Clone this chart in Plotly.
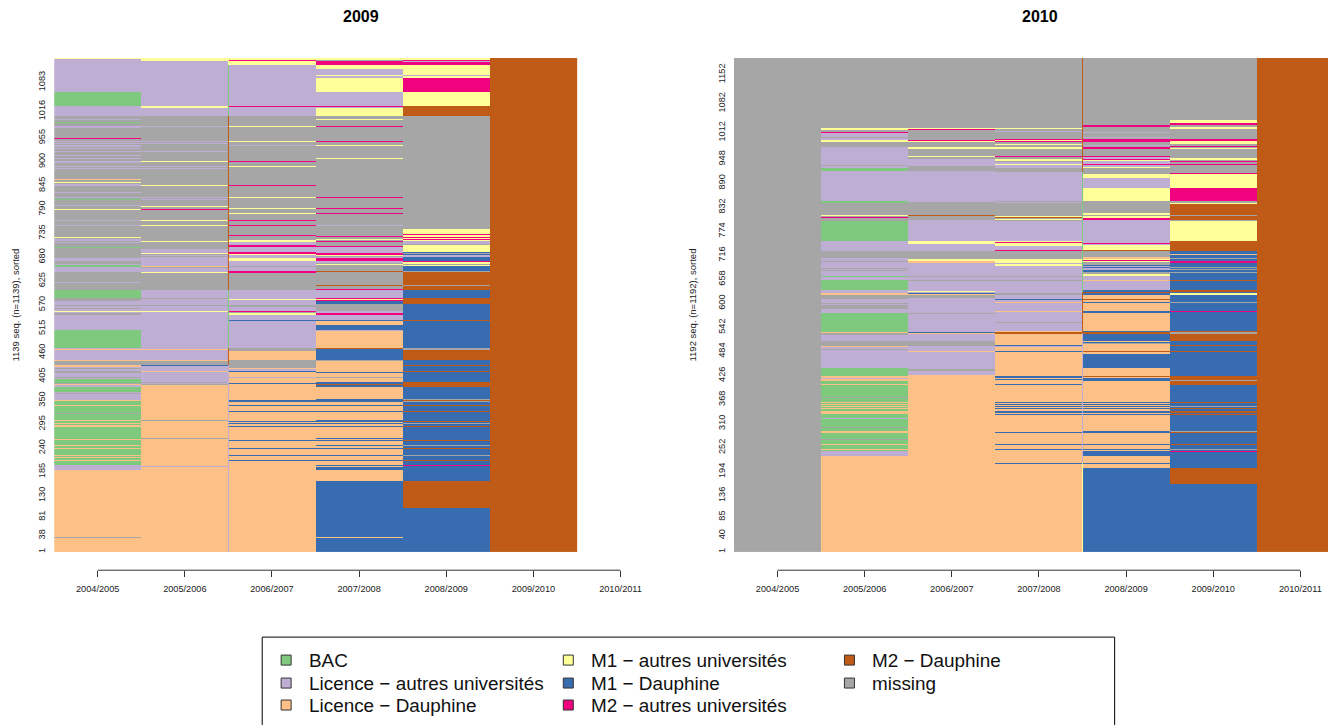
import plotly.graph_objects as go

STATE_CODES = ["G", "A", "L", "Y", "M", "P", "B", "X"]
STATE_NAMES = ["BAC", "Licence − autres universités", "Licence − Dauphine",
               "M1 − autres universités", "M1 − Dauphine", "M2 − autres universités",
               "M2 − Dauphine", "missing"]
STATE_COLORS = ["#7FC97F", "#BEAED4", "#FDC086", "#FFFF99", "#386CB0", "#F0027F", "#BF5B17", "#A6A6A6"]
YEARS = ["2004/2005", "2005/2006", "2006/2007", "2007/2008", "2008/2009", "2009/2010", "2010/2011"]

N_2009 = 1139
N_2010 = 1192
TICKS_2009 = [1, 38, 81, 130, 185, 240, 295, 350, 405, 460, 515, 570, 625, 680, 735, 790, 845, 900, 955, 1016, 1083]
TICKS_2010 = [1, 40, 85, 136, 194, 252, 310, 368, 426, 484, 542, 600, 658, 716, 774, 832, 890, 948, 1012, 1082, 1152]

# Each column: runs read top-down, "state + last row counted from the top of the index plot"
RUNS_2009_1 = """Y2 A78 G110 A134 P135 X141 A142 X148 G149 X157 A161 X184 P186 X192 A194 X197 A198 X201 A202 X204 A206 X208 A210
X215 A217 X224 A227 X230 A232 X237 A242 X249 A251 X254 A256 X270 G271 X279 L281 X286 Y288 X291 A296 X300 A301 X309 A311
X320 A322 X325 G327 X339 G340 A342 X348 Y350 X373 A376 X385 A387 X413 Y415 X417 A419 X420 A422 X424 A426 X437 G439 X445
A446 X461 A468 X474 A477 G482 A493 X516 A519 X535 G553 X560 A569 X572 A576 X578 A583 Y586 A587 X592 A628 G669 A671 L673
A696 L699 X707 L712 A715 X717 A723 X726 A736 X739 A740 G749 A750 X752 L755 A759 G770 A772 X775 A781 L782 A788 L791 G801
L802 G813 L815 G818 X820 G835 L838 G841 L844 G847 L850 G879 L882 G893 L895 G899 L901 G915 L918 G921 L922 G927 L929 G939
A950 L1104 X1107 L1139"""
RUNS_2009_2 = """Y7 A111 Y115 A133 X157 A159 X191 A193 X197 A198 X203 A204 X215 A217 X237 Y239 X249 A251 X254 A256 X293 Y295 X320 A323
X325 A327 X341 Y344 X348 P350 X373 Y376 X385 Y387 X422 Y424 X440 A449 Y452 X454 A456 X460 A480 L482 X484 A493 Y496 X535
A553 X555 A569 X572 A583 Y586 A671 L673 A696 L699 X708 M710 A722 L724 A748 X750 A752 X754 L805 X806 L835 X836 L876 X878
L888 X889 L941 A943 L1139"""
RUNS_2009_3 = """Y5 P7 Y16 A111 P113 A133 X157 Y159 X191 Y194 X201 A203 X237 P239 X249 Y251 X293 P295 X320 Y323 X346 Y348 X357 Y360 X373
P376 X385 P387 X408 P410 X420 Y424 A431 P436 A447 P452 Y454 A461 Y468 A480 X482 A492 P496 X535 A556 Y558 A569 X575 A583
P586 X589 Y593 A604 M606 A669 X675 L696 X708 M709 X715 L717 A722 M724 L735 A737 L749 M752 L754 M755 L788 M793 L800 M802
L814 M816 L837 M839 L842 M844 L848 M851 L881 M883 L899 M901 L915 M918 L920 M921 L927 M929 L1139"""
RUNS_2009_4 = """Y5 X7 P16 Y25 A39 Y41 A46 Y78 A111 P113 A115 Y133 X141 Y142 X157 P159 X191 P194 X201 Y203 X231 Y233 X320 P323 X346 P348
X357 P360 X385 A387 X410 P413 X417 Y420 X422 P424 X433 P436 A450 P454 Y456 X459 A461 P468 A473 X475 Y477 X491 B493 X523
B526 X533 P535 A553 P556 Y558 P560 M567 X583 A589 P592 A604 M606 L616 M627 A629 L669 B672 M696 X699 L708 X709 L724 M726
L735 X738 L747 M752 B754 M758 L786 M793 L800 M802 L814 M816 L835 M839 L842 M844 L848 M851 L876 M878 L881 M883 L892 M895
L899 M901 L915 M918 L920 M921 L927 M929 L938 M941 L943 M950 L975 M1104 L1107 M1139"""
RUNS_2009_5 = """Y5 P7 A10 P16 Y39 A41 Y46 P78 Y111 B133 X394 Y406 P408 Y413 P415 Y418 P420 Y422 A429 X431 Y447 M450 X452 M454 A459 M469
P470 Y475 X477 Y480 M491 X493 B523 X526 B535 M553 B567 M604 B606 M669 X673 B696 M708 B710 M722 B724 M747 B759 M786 X788
B791 X793 M800 B802 M814 B816 M837 B839 M842 X844 M848 B851 M880 B883 M892 X895 M899 B901 M915 X918 M920 B921 M927 B929
M938 P941 M975 B1037 M1139"""
RUNS_2009_6 = "B1139"

RUNS_2010_1 = "X1192"
RUNS_2010_2 = """X157 P158 X169 Y175 X179 P181 A191 X194 A197 P199 Y202 X212 X214 A258 X261 A265 G274 A345 G351 X379 Y381 X384 P386 X393
G442 A466 X483 A490 X492 A507 X509 A512 X513 A526 G528 A537 G561 A567 L572 X581 A591 X594 A596 X607 A615 G661 L664 X668
A683 X694 L697 A703 X705 A748 G767 L773 A775 L779 G787 L789 G818 X820 G830 L832 G835 L837 G840 L842 G845 L847 G852 L858
G869 A871 G890 X893 G900 L905 G919 X922 G931 L934 G943 L946 G949 A960 L1192"""
RUNS_2010_3 = """X169 Y171 P173 X197 P200 Y202 X216 Y220 X236 Y239 X244 A261 X263 X274 A347 X379 B381 X391 A442 Y449 A466 X485 Y490 L495
A526 X528 A536 X538 A562 Y565 A567 M569 L572 X579 A615 X618 A661 M664 L666 A683 X694 L696 A707 L709 A750 X755 A766 L1192"""
RUNS_2010_4 = """X169 Y171 X176 A179 X195 P198 Y200 P203 X208 Y211 X215 Y220 X236 P239 X244 Y249 X251 A256 Y258 A265 X275 A345 X347 A350
X381 Y384 B386 X388 Y391 X393 A442 Y444 P446 Y454 A463 P466 X485 Y495 A497 Y502 A526 X528 A536 X538 A567 X572 A581 M584
A589 L591 A610 L613 A637 X639 A659 L661 B666 L692 M695 A697 L707 M709 L767 M772 L775 M777 L787 M789 L830 M832 L835 M837
L840 M842 L845 M847 L852 M857 L859 M861 L902 M905 L931 M934 L943 M946 L977 M980 L1192"""
RUNS_2010_5 = """X162 P166 X179 A181 X191 A193 X195 P203 X210 A212 X215 P220 X236 P239 A244 P246 Y249 A256 P258 A263 Y265 X280 Y290 A314
Y345 X350 X374 Y379 X381 Y386 P391 A446 P449 A451 Y463 B466 X480 L485 Y487 P490 Y492 X499 M501 A504 M507 X508 A512 M516
X521 Y526 A536 L538 A560 M565 B567 M572 L581 B584 L589 M591 L610 M615 L659 M661 B665 M683 L685 M688 X690 L707 B709 L714
M748 L767 B771 L772 M779 L830 M832 L835 M837 L840 M842 L845 M847 L852 M857 L859 M861 L900 M905 L931 M934 L943 M946 L948
M960 L977 M980 L989 M1192"""
RUNS_2010_6 = """X150 Y158 P161 X166 Y171 X195 P200 Y207 X212 P215 X217 Y220 X241 Y246 X249 P251 X256 P258 X277 P280 Y314 P345 X350 Y352
B379 X381 B391 X393 Y442 B466 M473 L475 M483 X485 M491 P495 M504 X507 M509 X512 M516 X520 M536 B538 M560 B565 M567 Y572
M589 X591 M610 P613 M659 B661 X666 B683 M692 B695 M707 B709 M767 B777 X779 B789 M830 B832 M840 X842 M845 B847 M852 B857
M859 B861 M900 X902 B905 M931 B934 M943 X946 M948 P951 M989 B1028 M1192"""
RUNS_2010_7 = "B1192"

# Hairline seen on the boundary between two columns, same run notation
SEAM_2009 = "Y16 G133 B535 G669 B708 A1139"
SEAM_2010 = "B275 G565 B664 A978 Y1192"

COLUMNS_2009 = [RUNS_2009_1, RUNS_2009_2, RUNS_2009_3, RUNS_2009_4, RUNS_2009_5, RUNS_2009_6]
COLUMNS_2010 = [RUNS_2010_1, RUNS_2010_2, RUNS_2010_3, RUNS_2010_4, RUNS_2010_5, RUNS_2010_6, RUNS_2010_7]


def build_matrix(columns, n):
    z = [[None] * len(columns) for _ in range(n)]
    for c, text in enumerate(columns):
        start = 0
        for run in text.split():
            code, end = STATE_CODES.index(run[0]), int(run[1:])
            for depth in range(start, end):
                z[n - 1 - depth][c] = code
            start = end
    return z


W, H = 1332, 726
COL_PX = 87.4
TOP, BOTTOM, AXIS_Y = 58, 552.7, 571


def py(v):
    return 1 - v / H


scale = [[i / 8 + e / 8, c] for i, c in enumerate(STATE_COLORS) for e in (0, 1)]
fig = go.Figure()


def panel(columns, n, ticks, xa, ya, left, right, title, ytitle_x, title_x, seam, seam_x):
    z = build_matrix(columns, n)
    fig.add_trace(go.Heatmap(z=z, x=list(range(1, len(columns) + 1)), y=list(range(1, n + 1)),
                             colorscale=scale, zmin=-0.5, zmax=7.5, showscale=False, hoverinfo="skip",
                             xaxis=xa, yaxis=ya))
    start = 0
    for run in seam.split():
        end = int(run[1:])
        fig.add_trace(go.Scatter(x=[seam_x, seam_x], y=[n - start + 0.5, n - end + 0.5], mode="lines",
                                 line=dict(color=STATE_COLORS[STATE_CODES.index(run[0])], width=1),
                                 hoverinfo="skip", xaxis=xa, yaxis=ya))
        start = end
    xname = "xaxis" + xa[1:]
    yname = "yaxis" + ya[1:]
    fig.layout[xname] = dict(domain=[left / W, right / W], range=[0.5, 0.5 + (right - left) / COL_PX],
                             anchor="free", position=py(AXIS_Y), tickmode="array",
                             tickvals=list(range(1, 8)), ticktext=YEARS, ticks="outside", ticklen=6,
                             tickwidth=1, tickcolor="#333333", showgrid=False, zeroline=False,
                             showline=False, tickangle=0, ticklabelstandoff=4,
                             tickfont=dict(size=9.2, color="#222222"))
    fig.layout[yname] = dict(domain=[py(BOTTOM), py(TOP)], range=[0.5, n + 0.5], anchor=xa,
                             tickmode="array", tickvals=ticks, ticktext=[str(t) for t in ticks],
                             ticks="", showgrid=False, zeroline=False, showline=False, tickangle=-90,
                             ticklabelstandoff=6, tickfont=dict(size=9.2, color="#222222"))
    fig.add_shape(type="line", xref=xa, yref="paper", x0=1, x1=7, y0=py(AXIS_Y), y1=py(AXIS_Y),
                  line=dict(color="#333333", width=1))
    fig.add_annotation(text=f"<b>{title}</b>", xref="paper", yref="paper", x=title_x / W, xanchor="center",
                       y=py(16.5), yanchor="middle", showarrow=False, font=dict(size=16, color="black"))
    fig.add_annotation(text=f"{n} seq. (n={n}), sorted", xref="paper", yref="paper", x=ytitle_x / W,
                       xanchor="center", y=py(305), yanchor="middle", showarrow=False, textangle=-90,
                       font=dict(size=9.5, color="#222222"))


panel(COLUMNS_2009, N_2009, TICKS_2009, "x", "y", 54.3, 640, "2009", 16, 362, SEAM_2009, 2.5)
panel(COLUMNS_2010, N_2010, TICKS_2010, "x2", "y2", 736.2, W, "2010", 695, 1043, SEAM_2010, 4.5)

# Legend drawn on its own hidden full-page axes
LEG_X = [287, 287, 287, 570, 570, 570, 852, 852]
LEG_Y = [661, 684, 706, 661, 684, 706, 661, 684]
fig.layout.xaxis3 = dict(domain=[0, 1], range=[0, W], visible=False, anchor="y3")
fig.layout.yaxis3 = dict(domain=[0, 1], range=[H, 0], visible=False, anchor="x3")
fig.add_trace(go.Scatter(x=LEG_X, y=LEG_Y, mode="markers", xaxis="x3", yaxis="y3", hoverinfo="skip",
                         marker=dict(symbol="square", size=10, color=STATE_COLORS,
                                     line=dict(color="#333333", width=1))))
for x, y, name in zip(LEG_X, LEG_Y, STATE_NAMES):
    fig.add_annotation(text=name, xref="x3", yref="y3", x=x + 21, y=y, xanchor="left", showarrow=False,
                       font=dict(size=18.9, color="#111111"))
fig.add_shape(type="rect", xref="paper", yref="paper", x0=263 / W, x1=1118 / W, y0=py(638), y1=py(735),
              line=dict(color="black", width=1), fillcolor="rgba(0,0,0,0)")

fig.update_layout(width=W, height=H, margin=dict(l=0, r=0, t=0, b=0), showlegend=False,
                  paper_bgcolor="white", plot_bgcolor="rgba(0,0,0,0)",
                  font=dict(family="Liberation Sans"))
fig.write_html("out.html", config={"displayModeBar": False},
               post_script="document.documentElement.style.overflow='hidden';document.body.style.overflow='hidden';"
                           "document.body.style.margin='0';")
